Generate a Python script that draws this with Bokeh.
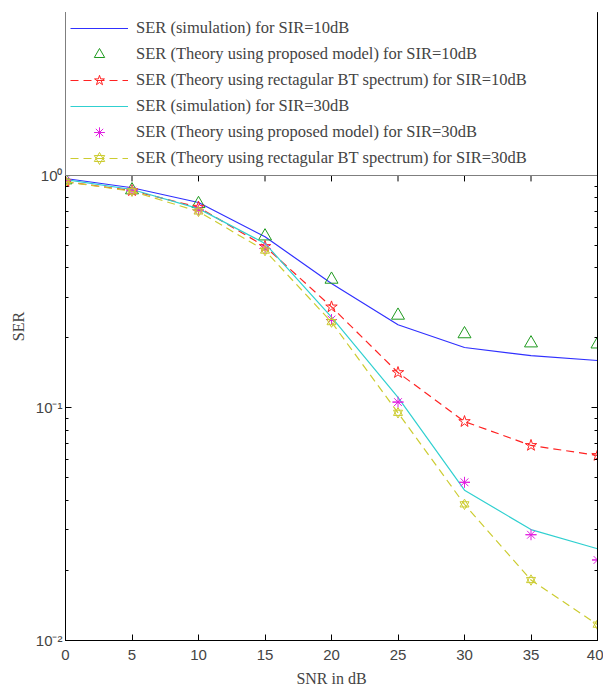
import math
from bokeh.plotting import figure
from bokeh.models import (LogAxis, FixedTicker, Legend, LegendItem,
                          CustomJSTickFormatter, Range1d)
from bokeh.embed import file_html
from bokeh.resources import INLINE

snr = [0, 5, 10, 15, 20, 25, 30, 35, 40]
sim10 = [0.97, 0.885, 0.765, 0.545, 0.343, 0.228, 0.182, 0.168, 0.160]
prop10 = [0.955, 0.865, 0.755, 0.548, 0.357, 0.250, 0.208, 0.190, 0.188]
rect10 = [0.94, 0.86, 0.73, 0.495, 0.272, 0.142, 0.0874, 0.0690, 0.0625]
sim30 = [0.96, 0.87, 0.72, 0.51, 0.246, 0.111, 0.0443, 0.0300, 0.0248]
prop30 = [0.95, 0.86, 0.71, 0.485, 0.240, 0.106, 0.0479, 0.0285, 0.0222]
rect30 = [0.94, 0.855, 0.70, 0.475, 0.234, 0.0953, 0.0385, 0.0182, 0.0117]

labels = [
    "SER (simulation) for SIR=10dB",
    "SER (Theory using proposed model) for SIR=10dB",
    "SER (Theory using rectagular BT spectrum) for SIR=10dB",
    "SER (simulation) for SIR=30dB",
    "SER (Theory using proposed model) for SIR=30dB",
    "SER (Theory using rectagular BT spectrum) for SIR=30dB",
]
x_ticks = [0, 5, 10, 15, 20, 25, 30, 35, 40]
y_ticks = [0.01, 0.1, 1]
y_minor = [m * d for d in (0.01, 0.1) for m in range(2, 10)]
y_top = 5.02   # headroom above 10^0 where the legend sits (as in the original axes)

BLUE = "#3030ff"
GREEN = "#1f9a1f"
RED = "#ff2222"
CYAN = "#30d0d0"
MAGENTA = "#e020e0"
YELLOW = "#cccc30"

p = figure(width=603, height=692, y_axis_type="log",
           x_range=Range1d(0, 40), y_range=Range1d(0.01, y_top),
           output_backend="svg", toolbar_location=None,
           min_border_left=65, min_border_right=6,
           min_border_top=12, min_border_bottom=52)
p.background_fill_color = "white"
p.border_fill_color = "white"
p.outline_line_color = "black"
p.xgrid.visible = False
p.ygrid.visible = False

l1 = p.line(snr, sim10, line_color=BLUE, line_width=1.2)
s2 = p.scatter(snr, prop10, marker="triangle", size=13, line_color=GREEN,
               fill_color=None, line_width=1)
l3 = p.line(snr, rect10, line_color=RED, line_width=1.2, line_dash="8 5")
s3 = p.scatter(snr, rect10, marker="star", size=12, line_color=RED,
               fill_color=None, line_width=1)
l4 = p.line(snr, sim30, line_color=CYAN, line_width=1.2)
s5a = p.scatter(snr, prop30, marker="asterisk", size=11, line_color=MAGENTA, line_width=1)
s5b = p.scatter(snr, prop30, marker="dash", size=11, line_color=MAGENTA, line_width=1)
l6 = p.line(snr, rect30, line_color=YELLOW, line_width=1.2, line_dash="8 5")
s6a = p.scatter(snr, rect30, marker="triangle", size=9, line_color=YELLOW,
                fill_color=None, line_width=1)
s6b = p.scatter(snr, rect30, marker="inverted_triangle", size=9, line_color=YELLOW,
                fill_color=None, line_width=1)

# top-edge ticks of the axes box (at y = 10^0), lower half visible below the legend
p.scatter(x_ticks, [y_ticks[-1]] * len(x_ticks), marker="dash", angle=math.pi / 2,
          size=12, line_color="black", line_width=1)

tick_font = "Liberation Sans"
serif = "Liberation Serif"

# bottom axis
xa = p.xaxis[0]
xa.ticker = FixedTicker(ticks=x_ticks)
xa.major_tick_in = 6
xa.major_tick_out = 0
xa.minor_tick_in = 0
xa.minor_tick_out = 0
xa.major_label_text_font = tick_font
xa.major_label_text_font_size = "15px"
xa.major_label_standoff = 9
xa.axis_label = "SNR in dB"
xa.axis_label_text_font = serif
xa.axis_label_text_font_size = "16px"
xa.axis_label_text_font_style = "normal"
xa.axis_label_standoff = 7
xa.axis_line_color = "black"

# left axis
ya = p.yaxis[0]
ya.ticker = FixedTicker(ticks=y_ticks, minor_ticks=y_minor)
ya.formatter = CustomJSTickFormatter(code="""
const e = Math.round(Math.log10(tick));
const sup = {'0':'\u2070','1':'\u00b9','2':'\u00b2','-':'\u207b'};
return '10' + String(e).split('').map(c => sup[c]).join('');
""")
ya.major_tick_in = 6
ya.major_tick_out = 0
ya.minor_tick_in = 3
ya.minor_tick_out = 0
ya.major_label_text_font = tick_font
ya.major_label_text_font_size = "15px"
ya.major_label_standoff = 3
ya.axis_label = "SER"
ya.axis_label_text_font = serif
ya.axis_label_text_font_size = "16px"
ya.axis_label_text_font_style = "normal"
ya.axis_label_standoff = 6
ya.axis_line_color = "black"

# right edge ticks (no labels)
right = LogAxis(ticker=FixedTicker(ticks=y_ticks, minor_ticks=y_minor),
                major_tick_in=6, major_tick_out=0, minor_tick_in=3, minor_tick_out=0,
                formatter=CustomJSTickFormatter(code="return '';"),
                major_label_standoff=0)
p.add_layout(right, "right")

items = [
    LegendItem(label=labels[0], renderers=[l1]),
    LegendItem(label=labels[1], renderers=[s2]),
    LegendItem(label=labels[2], renderers=[l3, s3]),
    LegendItem(label=labels[3], renderers=[l4]),
    LegendItem(label=labels[4], renderers=[s5a, s5b]),
    LegendItem(label=labels[5], renderers=[l6, s6a, s6b]),
]
leg = Legend(items=items, location=(0, 464), margin=0, padding=4,
             glyph_width=58, glyph_height=26, label_height=26, label_width=460,
             label_standoff=8, spacing=0,
             label_text_font=serif, label_text_font_size="16.5px",
             border_line_color="black", border_line_width=1,
             background_fill_color="white", background_fill_alpha=1)
p.add_layout(leg, "center")

open("out.html", "w").write(file_html(p, INLINE))
